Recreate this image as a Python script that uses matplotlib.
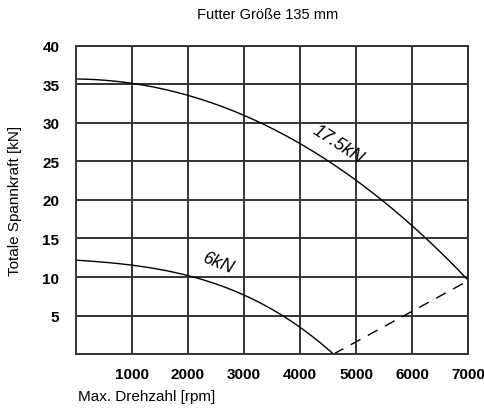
import numpy as np
import matplotlib.pyplot as plt

plt.rcParams['font.family'] = ['Liberation Sans', 'DejaVu Sans']

# data
rpm_hi = [0, 1000, 2000, 3000, 4000, 5000, 6000, 7000]
force_hi = [35.7, 35.1, 33.8, 30.9, 27.2, 22.5, 16.9, 9.5]
rpm_lo = [0, 1000, 2000, 3000, 4000, 4600]
force_lo = [12.2, 11.5, 10.2, 7.7, 3.4, 0.0]
rpm_dash = [4600, 7000]
force_dash = [0.0, 9.5]
xticks = [1000, 2000, 3000, 4000, 5000, 6000, 7000]
yticks = [5, 10, 15, 20, 25, 30, 35, 40]

fig = plt.figure(figsize=(4.84, 4.14), dpi=100)
ax = fig.add_axes([0.157, 0.1425, 0.81, 0.744])

def smooth(x, y):
    xs = np.linspace(x[0], x[-1], 200)
    c = np.polyfit(x, y, 3)
    return xs, np.polyval(c, xs)

xs, ys = smooth(rpm_hi, force_hi)
ax.plot(xs, ys, color='black', lw=1.0)
xs, ys = smooth(rpm_lo, force_lo)
ax.plot(xs, ys, color='black', lw=1.0)
ax.plot(rpm_dash, force_dash, color='black', lw=1.0, dashes=(8, 6))

ax.set_xlim(0, 7000)
ax.set_ylim(0, 40)
ax.set_xticks(xticks)
ax.set_yticks(yticks)
ax.set_xticklabels([str(t) for t in xticks], fontsize=11, fontweight='bold')
ax.set_yticklabels([str(t) for t in yticks], fontsize=11, fontweight='bold')
ax.tick_params(axis='x', length=0, pad=9)
ax.tick_params(axis='y', length=0, pad=12)
ax.grid(True, color='#333333', lw=1.4)
ax.set_axisbelow(True)
for s in ax.spines.values():
    s.set_linewidth(1.4)
    s.set_color('#333333')

ax.text(4680, 27.3, '17.5kN', rotation=-33, fontsize=13, style='italic',
        ha='center', va='center')
ax.text(2540, 11.8, '6kN', rotation=-22, fontsize=13, style='italic',
        ha='center', va='center')

fig.text(0.553, 0.963, 'Futter Größe 135 mm', fontsize=10.5, ha='center', va='center')
fig.text(0.161, 0.04, 'Max. Drehzahl [rpm]', fontsize=11, ha='left', va='center')
fig.text(0.032, 0.515, 'Totale Spannkraft [kN]', fontsize=11, ha='center', va='center',
         rotation=90)

fig.savefig('out.png', dpi=100)
